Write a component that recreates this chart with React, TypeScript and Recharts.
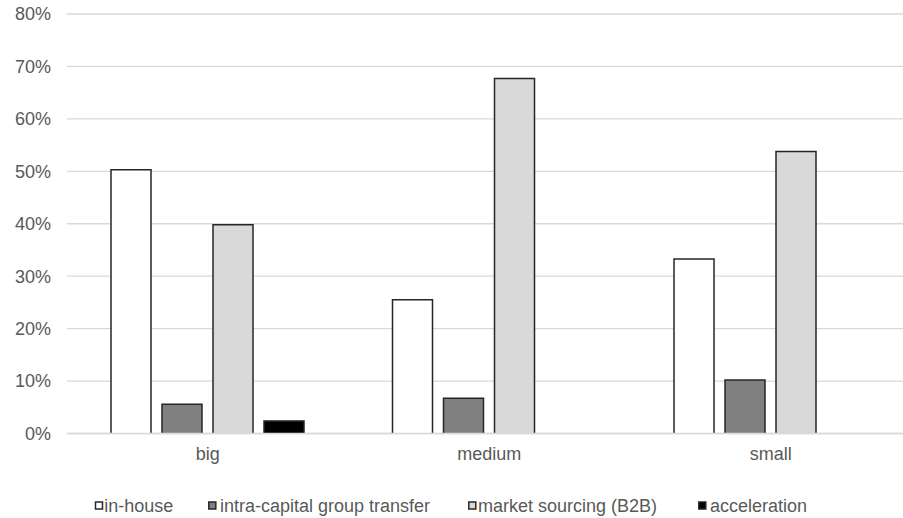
import React from "react";
import { BarChart, Bar, XAxis, YAxis, CartesianGrid, Legend } from "recharts";

const categories = ["big", "medium", "small"];
const inHouse = [50.3, 25.5, 33.3];
const intraGroup = [5.6, 6.7, 10.2];
const marketSourcing = [39.8, 67.7, 53.8];
const acceleration: (number | null)[] = [2.4, null, null];
const yTicks = [0, 10, 20, 30, 40, 50, 60, 70, 80];

const seriesDefs = [
  { key: "inHouse", name: "in-house", fill: "#ffffff", markerX: 95.5, textX: 104.3 },
  { key: "intraGroup", name: "intra-capital group transfer", fill: "#808080", markerX: 208.8, textX: 220 },
  { key: "marketSourcing", name: "market sourcing (B2B)", fill: "#d9d9d9", markerX: 468.8, textX: 478 },
  { key: "acceleration", name: "acceleration", fill: "#000000", markerX: 698.8, textX: 710 },
];

const data = categories.map((c, i) => ({
  category: c,
  inHouse: inHouse[i],
  intraGroup: intraGroup[i],
  marketSourcing: marketSourcing[i],
  acceleration: acceleration[i],
}));

const FONT = "'Liberation Sans', Arial, sans-serif";
const TEXT = "#595959";
const EDGE = "#262626";

// Column with outline on left, top and right only; the base sits on the axis line.
const OpenBar = (props: any) => {
  const { x, y, width, height, fill } = props;
  if (height == null || height <= 0 || width == null) return null;
  return (
    <g>
      <rect x={x} y={y} width={width} height={height} fill={fill} stroke="none" />
      <path
        d={`M${x},${y + height} V${y} H${x + width} V${y + height}`}
        fill="none"
        stroke={EDGE}
        strokeWidth={1.5}
      />
    </g>
  );
};

const LegendRow = () => (
  <svg width={903} height={24} style={{ display: "block" }}>
    {seriesDefs.map((s) => (
      <g key={s.key}>
        <rect x={s.markerX} y={8} width={7} height={7} fill={s.fill} stroke={EDGE} strokeWidth={1.5} />
        <text x={s.textX} y={18} fill={TEXT} fontSize={18} fontFamily={FONT}>
          {s.name}
        </text>
      </g>
    ))}
  </svg>
);

export default function App() {
  return (
    <div
      style={{
        position: "absolute",
        top: 0,
        left: 0,
        width: 903,
        height: 518,
        overflow: "hidden",
        background: "#ffffff",
      }}
    >
      <BarChart
        width={920}
        height={518}
        data={data}
        margin={{ top: 14, right: 8.5, left: 7, bottom: 0 }}
        barSize={40}
        barGap={11}
      >
        <CartesianGrid vertical={false} stroke="#d9d9d9" strokeWidth={1.3} />
        <XAxis
          dataKey="category"
          height={60.5}
          tickLine={false}
          tickSize={0}
          tickMargin={14}
          axisLine={{ stroke: "#d9d9d9", strokeWidth: 1.3 }}
          tick={{ fill: TEXT, fontSize: 18, fontFamily: FONT }}
        />
        <YAxis
          width={60}
          domain={[0, 80]}
          ticks={yTicks}
          interval={0}
          axisLine={false}
          tickLine={false}
          tickSize={0}
          tickMargin={16}
          tickFormatter={(v: number) => `${v}%`}
          tick={{ fill: TEXT, fontSize: 18, fontFamily: FONT }}
        />
        <Legend
          verticalAlign="bottom"
          content={() => <LegendRow />}
          wrapperStyle={{ left: 0, width: 903, bottom: 0, height: 24 }}
        />
        {seriesDefs.map((s) => (
          <Bar
            key={s.key}
            dataKey={s.key}
            name={s.name}
            fill={s.fill}
            shape={<OpenBar />}
            isAnimationActive={false}
          />
        ))}
      </BarChart>
    </div>
  );
}
